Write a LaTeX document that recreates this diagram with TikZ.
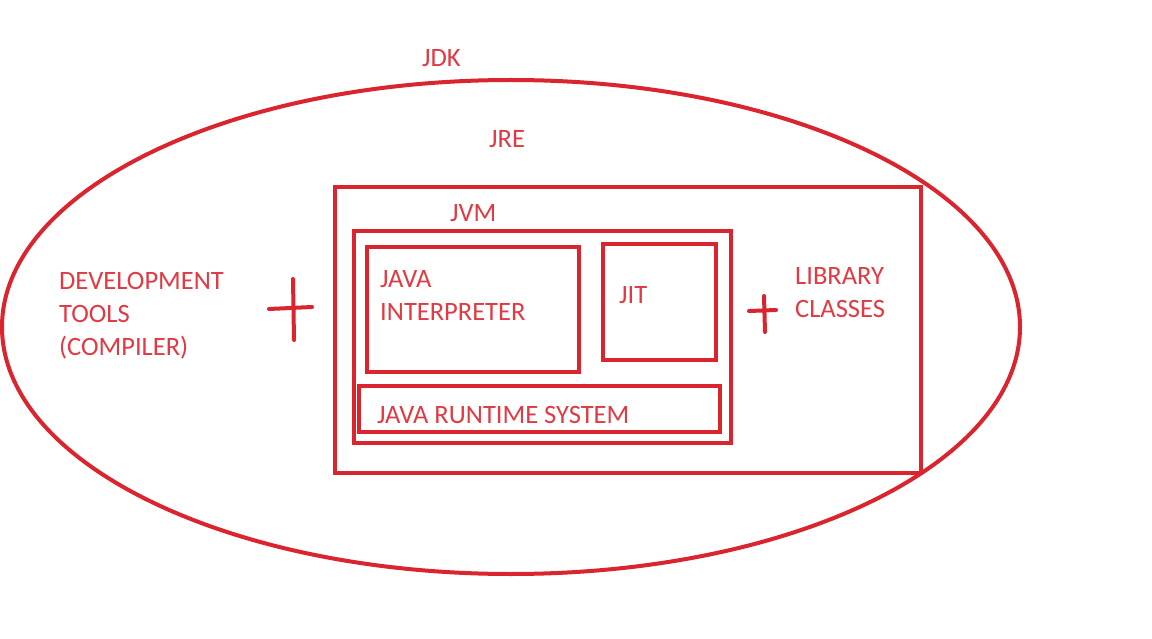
\documentclass[tikz,border=0pt]{standalone}
\usepackage{fontspec}
\setmainfont{Carlito}
\definecolor{lin}{RGB}{218,36,46}
\definecolor{txt}{RGB}{224,58,68}
\begin{document}
\begin{tikzpicture}[x=1pt,y=-1pt,
  box/.style={draw=lin,line width=4pt},
  lbl/.style={text=txt,font=\fontsize{26.5}{31}\selectfont,inner sep=0pt,anchor=base west,align=left},
  plus/.style={draw=lin,line width=4pt,line cap=round}]
\useasboundingbox (0,0) rectangle (1152,639);
\fill[white] (0,0) rectangle (1152,639);
% JDK ellipse
\draw[box] (511,327) ellipse [x radius=509, y radius=247];
% JRE
\draw[box] (335,187) rectangle (921,473);
% JVM
\draw[box] (354,231) rectangle (731,443);
% inner boxes
\draw[box] (367,247) rectangle (579,372);
\draw[box] (603,244) rectangle (716,360);
\draw[box] (359,386) rectangle (720,432);
% labels
\node[lbl] (jdk) at (422,67) {JDK};
\node[lbl] (jre) at (489,148) {JRE};
\node[lbl] (jvm) at (450,222) {JVM};
\node[lbl] (java) at (380,288) {JAVA};
\node[lbl] (interp) at (380,320) {INTERPRETER};
\node[lbl] (jit) at (619,304) {JIT};
\node[lbl] (jrs) at (377,423) {JAVA RUNTIME SYSTEM};
\node[lbl] (dev) at (59,290) {DEVELOPMENT};
\node[lbl] (tools) at (59,323) {TOOLS};
\node[lbl] (comp) at (59,355) {(COMPILER)};
\node[lbl] (lib) at (795,285) {LIBRARY};
\node[lbl] (cls) at (795,317) {CLASSES};
% plus signs
\draw[plus] (269,309) -- (312,307);
\draw[plus] (293,279) -- (294,340);
\draw[plus] (749,311) -- (776,310);
\draw[plus] (764,296) -- (765,332);
\end{tikzpicture}
\end{document}
